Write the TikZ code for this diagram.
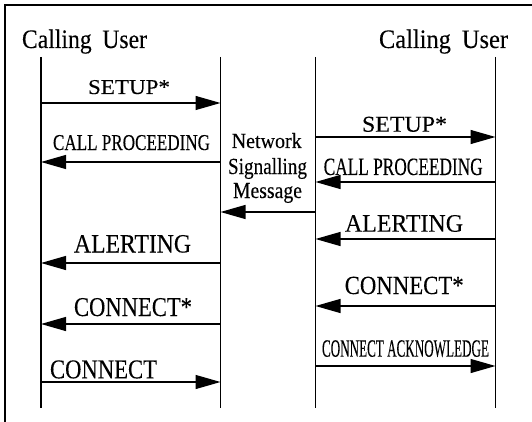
\documentclass[tikz,border=0pt]{standalone}
\usepackage{fontspec}
\setmainfont{Liberation Serif}[FakeBold=0.15]
\usetikzlibrary{arrows.meta}
\newcommand\fitbox[3]{\resizebox{#1pt}{#2pt}{#3}}
\begin{document}
\begin{tikzpicture}[x=1pt,y=-1pt,
  life/.style={line width=1.5pt},
  msg/.style={line width=1.3pt,-{Triangle[length=25pt,width=14pt]}},
  lbl/.style={anchor=base west,inner sep=0pt,outer sep=0pt},
  frame/.style={line width=1.6pt}]
\useasboundingbox (0,0) rectangle (532,422);
% frame (top and left sides visible)
\coordinate (fc) at (5,5);
\coordinate (fr) at (532,5);
\coordinate (fb) at (5,422);
\draw[frame] (fr) -- (fc) -- (fb);
% lifelines
\foreach \n/\x in {A/41,B/220.5,C/315.5,D/495.5}{
  \coordinate (\n-top) at (\x,57);
  \coordinate (\n-bot) at (\x,408);
  \draw[life] (\n-top) -- (\n-bot);
}
% headings
\node[lbl] (hl) at (22,48) {\fitbox{125}{18.5}{Calling\hspace{0.45em}User}};
\node[lbl] (hr) at (379,48) {\fitbox{129}{18.5}{Calling\hspace{0.45em}User}};
% left side messages
\draw[msg] (A-top |- 0,103) -- (B-top |- 0,103);
\node[lbl] (l1) at (88,94) {\fitbox{82}{14}{SETUP*}};
\draw[msg] (B-top |- 0,162) -- (A-top |- 0,162);
\node[lbl] (l2) at (53,150) {\fitbox{157}{15}{CALL PROCEEDING}};
\draw[msg] (B-top |- 0,263) -- (A-top |- 0,263);
\node[lbl] (l3) at (74,252.5) {\fitbox{117}{17.5}{ALERTING}};
\draw[msg] (B-top |- 0,324) -- (A-top |- 0,324);
\node[lbl] (l4) at (74,316) {\fitbox{118}{18}{CONNECT*}};
\draw[msg] (A-top |- 0,382) -- (B-top |- 0,382);
\node[lbl] (l5) at (50,378.3) {\fitbox{107}{18}{CONNECT}};
% network signalling
\draw[msg] (C-top |- 0,212) -- (B-top |- 0,212);
\node[lbl] (n1) at (231.7,148) {\fitbox{70}{15}{Network}};
\node[lbl] (n2) at (228,174) {\fitbox{79}{16}{Signalling}};
\node[lbl] (n3) at (233,198) {\fitbox{69}{15}{Message}};
% right side messages
\draw[msg] (C-top |- 0,137) -- (D-top |- 0,137);
\node[lbl] (r1) at (362,131.7) {\fitbox{85}{15}{SETUP*}};
\draw[msg] (D-top |- 0,182) -- (C-top |- 0,182);
\node[lbl] (r2) at (323.7,175) {\fitbox{159}{16.5}{CALL PROCEEDING}};
\draw[msg] (D-top |- 0,239) -- (C-top |- 0,239);
\node[lbl] (r3) at (345,231.7) {\fitbox{118}{16.7}{ALERTING}};
\draw[msg] (D-top |- 0,306) -- (C-top |- 0,306);
\node[lbl] (r4) at (344.7,294) {\fitbox{119}{17.3}{CONNECT*}};
\draw[msg] (C-top |- 0,366) -- (D-top |- 0,366);
\node[lbl] (r5) at (322,356.7) {\fitbox{167}{16.5}{CONNECT ACKNOWLEDGE}};
\end{tikzpicture}
\end{document}
